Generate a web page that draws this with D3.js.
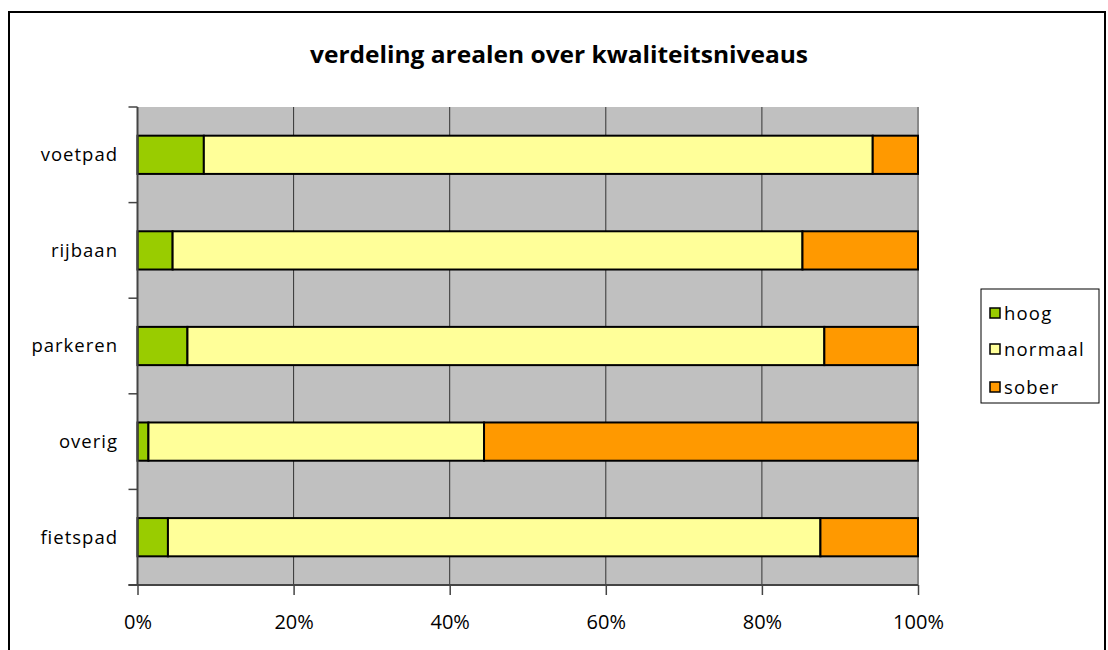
<!DOCTYPE html>
<html><head><meta charset="utf-8">
<script src="https://cdn.jsdelivr.net/npm/d3@7"></script>
<style>body{margin:0;background:#fff;}svg{display:block;}</style>
</head><body>
<svg id="c" width="1108" height="650"></svg>
<script>
const categories = ["voetpad", "rijbaan", "parkeren", "overig", "fietspad"];
const seriesNames = ["hoog", "normaal", "sober"];
const hoog    = [8.5, 4.5, 6.4, 1.4, 3.9];
const normaal = [85.7, 80.7, 81.6, 43.0, 83.6];
const sober   = [5.8, 14.8, 12.0, 55.6, 12.5];
const colors = ["#99CC00", "#FFFF99", "#FF9900"];
const xTicks = [0, 0.2, 0.4, 0.6, 0.8, 1.0];
const title = "verdeling arealen over kwaliteitsniveaus";

const svg = d3.select("#c");
const font = "'Open Sans', 'Noto Sans', sans-serif";
// outer frame
svg.append("rect").attr("x", 9).attr("y", 12).attr("width", 1096).attr("height", 650)
  .attr("fill", "#fff").attr("stroke", "#000").attr("stroke-width", 2);

svg.append("text").attr("x", 559).attr("y", 63).attr("text-anchor", "middle")
  .attr("font-family", font).attr("font-weight", "bold").attr("font-size", 24)
  .attr("textLength", 498).attr("lengthAdjust", "spacingAndGlyphs")
  .text(title);

const L = 137.5, R = 918, T = 107, B = 585;
const x = d3.scaleLinear().domain([0, 1]).range([L, R]);
const y = d3.scaleBand().domain(categories).range([T, B]).paddingInner(0.6).paddingOuter(0.3);

svg.append("rect").attr("x", L).attr("y", T).attr("width", R - L).attr("height", B - T).attr("fill", "#C0C0C0");
// gridlines
svg.append("g").selectAll("line").data(xTicks.slice(1, -1)).join("line")
  .attr("x1", d => x(d)).attr("x2", d => x(d)).attr("y1", T).attr("y2", B)
  .attr("stroke", "#333").attr("stroke-width", 1);
svg.append("line").attr("x1", R).attr("x2", R).attr("y1", T).attr("y2", B)
  .attr("stroke", "#888").attr("stroke-width", 2);

const data = categories.map((c, i) => ({cat: c, hoog: hoog[i], normaal: normaal[i], sober: sober[i]}));
const stack = d3.stack().keys(seriesNames).offset(d3.stackOffsetExpand)(data);
svg.append("g").selectAll("g").data(stack).join("g")
  .attr("fill", (d, i) => colors[i])
  .selectAll("rect").data(d => d).join("rect")
  .attr("x", d => x(d[0])).attr("width", d => x(d[1]) - x(d[0]))
  .attr("y", d => y(d.data.cat)).attr("height", y.bandwidth())
  .attr("stroke", "#000").attr("stroke-width", 2);

// axes
const step = y.step();
const yTicks = d3.range(categories.length + 1).map(i => T + i * step);
svg.append("line").attr("x1", L).attr("x2", L).attr("y1", T).attr("y2", B).attr("stroke", "#444").attr("stroke-width", 2);
svg.append("g").selectAll("line").data(yTicks).join("line")
  .attr("x1", L - 9).attr("x2", L).attr("y1", d => d).attr("y2", d => d).attr("stroke", "#444").attr("stroke-width", 1.5);
svg.append("g").selectAll("text").data(categories).join("text")
  .attr("x", 118).attr("y", d => y(d) + y.bandwidth() / 2).attr("dy", "0.35em")
  .attr("text-anchor", "end").attr("font-family", font).attr("font-size", 18.5).attr("letter-spacing", 1)
  .text(d => d);

const xAxis = d3.axisBottom(x).tickValues(xTicks).tickFormat(d3.format(".0%")).tickSize(10).tickPadding(20);
const gx = svg.append("g").attr("transform", `translate(0,${B})`).call(xAxis);
gx.attr("font-size", null).attr("font-family", null);
gx.select(".domain").attr("stroke", "#444").attr("stroke-width", 2).attr("d", `M${L - 9},0H${R}`);
gx.selectAll(".tick line").attr("stroke", "#444").attr("stroke-width", 1.5);
gx.selectAll("text").attr("font-family", font).attr("font-size", 20).attr("fill", "#000");

// legend
const lg = svg.append("g");
lg.append("rect").attr("x", 981).attr("y", 289).attr("width", 118).attr("height", 114)
  .attr("fill", "#fff").attr("stroke", "#000").attr("stroke-width", 1);
const ly = [314, 350, 388];
seriesNames.forEach((s, i) => {
  lg.append("rect").attr("x", 990).attr("y", ly[i] - 6).attr("width", 10).attr("height", 10)
    .attr("fill", colors[i]).attr("stroke", "#000").attr("stroke-width", 1.5);
  lg.append("text").attr("x", 1004).attr("y", ly[i]).attr("dy", "0.35em")
    .attr("font-family", font).attr("font-size", 18.5).attr("letter-spacing", 1.2).text(s);
});
</script>
</body></html>
